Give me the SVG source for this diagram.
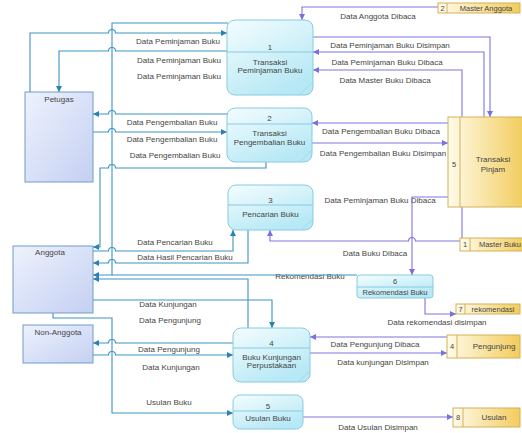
<svg xmlns="http://www.w3.org/2000/svg" width="522" height="433" viewBox="0 0 522 433">
<defs>
<linearGradient id="gEnt" x1="0" y1="0" x2="1" y2="1"><stop offset="0" stop-color="#eef2fd"/><stop offset="1" stop-color="#c4d0f2"/></linearGradient>
<linearGradient id="gProc" x1="0" y1="0" x2="0.6" y2="1"><stop offset="0" stop-color="#f4fdff"/><stop offset="1" stop-color="#b6e8f5"/></linearGradient>
<linearGradient id="gStore" x1="0" y1="0" x2="1" y2="0"><stop offset="0" stop-color="#fffbea"/><stop offset="1" stop-color="#f2cc5c"/></linearGradient>
<marker id="at" viewBox="0 0 10 10" refX="10" refY="5" markerWidth="8" markerHeight="6" orient="auto" markerUnits="userSpaceOnUse"><path d="M0,0 L10,5 L0,10 z" fill="#2a82b4"/></marker>
<marker id="ap" viewBox="0 0 10 10" refX="10" refY="5" markerWidth="8" markerHeight="6" orient="auto" markerUnits="userSpaceOnUse"><path d="M0,0 L10,5 L0,10 z" fill="#7a70e0"/></marker>
</defs>
<style>
.ent{fill:url(#gEnt);stroke:#6f9cc8;stroke-width:1}
.proc{fill:url(#gProc);stroke:#86cbe0;stroke-width:1}
.div{stroke:#86cbe0;stroke-width:1}
.dg{stroke:#9fd6e6;stroke-width:0.8}
.store{fill:url(#gStore);stroke:#d2b158;stroke-width:1}
.sdiv{stroke:#d2b158;stroke-width:1}
.ct{fill:none;stroke:#3d93c4;stroke-width:1.1;marker-end:url(#at)}
.cn{fill:none;stroke:#3d93c4;stroke-width:1.1}
.cp{fill:none;stroke:#7f76e2;stroke-width:1.1;marker-end:url(#ap)}
text{font-family:"Liberation Sans",Arial,sans-serif;font-size:8px;fill:#454545;text-anchor:middle}
.s{font-size:7.5px}
</style>

<g id="labels">
<text x="178" y="44">Data Peminjaman Buku</text>
<text x="179" y="63">Data Peminjaman Buku</text>
<text x="179" y="79">Data Peminjaman Buku</text>
<text x="378" y="19">Data Anggota Dibaca</text>
<text x="390" y="48">Data Peminjaman Buku Disimpan</text>
<text x="387" y="65">Data Peminjaman Buku Dibaca</text>
<text x="385" y="83">Data Master Buku Dibaca</text>
<text x="172" y="125">Data Pengembalian Buku</text>
<text x="172" y="142">Data Pengembalian Buku</text>
<text x="175" y="158">Data Pengembalian Buku</text>
<text x="381" y="134">Data Pengembalian Buku Dibaca</text>
<text x="383" y="156">Data Pengembalian Buku Disimpan</text>
<text x="380" y="203">Data Peminjaman Buku Dibaca</text>
<text x="175" y="245">Data Pencarian Buku</text>
<text x="185" y="260">Data Hasil Pencarian Buku</text>
<text x="375" y="256">Data Buku Dibaca</text>
<text x="310" y="279">Rekomendasi Buku</text>
<text x="437" y="325">Data rekomendasi disimpan</text>
<text x="168" y="307">Data Kunjungan</text>
<text x="170" y="323">Data Pengunjung</text>
<text x="169" y="352">Data Pengunjung</text>
<text x="171" y="370">Data Kunjungan</text>
<text x="375" y="347">Data Pengunjung Dibaca</text>
<text x="383" y="365">Data kunjungan Disimpan</text>
<text x="169" y="405">Usulan Buku</text>
<text x="378" y="430">Data Usulan Disimpan</text>
</g>

<g id="connectors">
<path class="ct" d="M30,92 V33 H108.5 a3.5,3.5 0 0 1 7,0 H227"/>
<path class="ct" d="M227,51 H115.5 a3.5,3.5 0 0 0 -7,0 H59 V92"/>
<path class="ct" d="M228,23 H112 V275 H93"/>
<path class="cn" d="M357,275 H112"/>
<path class="ct" d="M227,114 H115.5 a3.5,3.5 0 0 0 -7,0 H93"/>
<path class="ct" d="M93,132 H108.5 a3.5,3.5 0 0 1 7,0 H227"/>
<path class="ct" d="M266,162 V168 H115.5 a3.5,3.5 0 0 0 -7,0 H100 V247 H93"/>
<path class="ct" d="M93,251 H108.5 a3.5,3.5 0 0 1 7,0 H233 V230"/>
<path class="ct" d="M248,230 V263 H115.5 a3.5,3.5 0 0 0 -7,0 H93"/>
<path class="ct" d="M248,328 V279 H93"/>
<path class="ct" d="M93,300 H272 V328"/>
<path class="ct" d="M53,313 V318 H112 V413 H233"/>
<path class="ct" d="M233,343 H115.5 a3.5,3.5 0 0 0 -7,0 H93"/>
<path class="ct" d="M93,355 H108.5 a3.5,3.5 0 0 1 7,0 H233"/>
<path class="cp" d="M438,7 H302 V20"/>
<path class="cp" d="M313,37 H490 V117"/>
<path class="cp" d="M484,117 V52 H313"/>
<path class="cp" d="M462,238 V70 H313"/>
<path class="cp" d="M448,123 H312"/>
<path class="cp" d="M312,143 H448"/>
<path class="cp" d="M448,197 H412 V275"/>
<path class="cp" d="M460,241 H415.5 a3.5,3.5 0 0 0 -7,0 H270 V230"/>
<path class="cp" d="M425,298 V314 H456"/>
<path class="cp" d="M447,337 H310"/>
<path class="cp" d="M310,353 H447"/>
<path class="cp" d="M303,417 H453"/>
</g>

<g id="petugas"><rect class="ent" x="25" y="92" width="68" height="90"/><text x="59" y="102">Petugas</text></g>
<g id="anggota"><rect class="ent" x="13" y="246" width="80" height="67"/><text x="50" y="255">Anggota</text></g>
<g id="non-anggota"><rect class="ent" x="23" y="325" width="70" height="38"/><text x="58" y="335">Non-Anggota</text></g>

<g id="p1"><rect class="proc" x="227" y="20" width="86" height="75" rx="8"/><line class="div" x1="227" y1="52" x2="313" y2="52"/><line class="dg" x1="299" y1="95" x2="313" y2="82"/><text x="270" y="50">1</text><text x="270" y="65">Transaksi</text><text x="270" y="73">Peminjaman Buku</text></g>
<g id="p2"><rect class="proc" x="227" y="108" width="85" height="54" rx="8"/><line class="div" x1="227" y1="124" x2="312" y2="124"/><line class="dg" x1="299" y1="162" x2="312" y2="150"/><text x="269.5" y="121">2</text><text x="269.5" y="136">Transaksi</text><text x="269.5" y="145">Pengembalian Buku</text></g>
<g id="p3"><rect class="proc" x="228" y="185" width="85" height="45" rx="8"/><line class="div" x1="228" y1="205" x2="313" y2="205"/><line class="dg" x1="301" y1="230" x2="313" y2="219"/><text x="270.5" y="203">3</text><text x="270.5" y="217">Pencarian Buku</text></g>
<g id="p4"><rect class="proc" x="233" y="328" width="77" height="54" rx="8"/><line class="div" x1="233" y1="348" x2="310" y2="348"/><line class="dg" x1="298" y1="382" x2="310" y2="371"/><text x="271.5" y="346">4</text><text x="271.5" y="360">Buku Kunjungan</text><text x="271.5" y="368">Perpustakaan</text></g>
<g id="p5"><rect class="proc" x="233" y="395" width="70" height="34" rx="7"/><line class="div" x1="233" y1="411" x2="303" y2="411"/><text x="268" y="409">5</text><text x="268" y="421">Usulan Buku</text></g>
<g id="p6"><rect class="proc" x="357" y="275" width="76" height="23" rx="3"/><line class="div" x1="357" y1="287" x2="433" y2="287"/><text x="395" y="284" class="s">6</text><text x="395" y="295" class="s">Rekomendasi Buku</text></g>

<g id="ds2"><rect class="store" x="438" y="3" width="82" height="10"/><line class="sdiv" x1="447" y1="3" x2="447" y2="13"/><text x="442.5" y="11" class="s">2</text><text x="486" y="11" class="s">Master Anggota</text></g>
<g id="ds5"><rect class="store" x="448" y="117" width="76" height="90"/><line class="sdiv" x1="460" y1="117" x2="460" y2="207"/><text x="454" y="167" class="s">5</text><text x="493" y="162">Transaksi</text><text x="493" y="172">Pinjam</text></g>
<g id="ds1"><rect class="store" x="460" y="238" width="64" height="13"/><line class="sdiv" x1="470" y1="238" x2="470" y2="251"/><text x="465" y="247" class="s">1</text><text x="500" y="247" class="s">Master Buku</text></g>
<g id="ds7"><rect class="store" x="456" y="304" width="64" height="10"/><line class="sdiv" x1="465" y1="304" x2="465" y2="314"/><text x="460.5" y="312" class="s">7</text><text x="493" y="312" class="s">rekomendasi</text></g>
<g id="ds4"><rect class="store" x="447" y="335" width="73" height="23"/><line class="sdiv" x1="457" y1="335" x2="457" y2="358"/><text x="452" y="349" class="s">4</text><text x="494" y="349">Pengunjung</text></g>
<g id="ds8"><rect class="store" x="453" y="408" width="67" height="19"/><line class="sdiv" x1="463" y1="408" x2="463" y2="427"/><text x="458" y="420" class="s">8</text><text x="494" y="420">Usulan</text></g>
</svg>
